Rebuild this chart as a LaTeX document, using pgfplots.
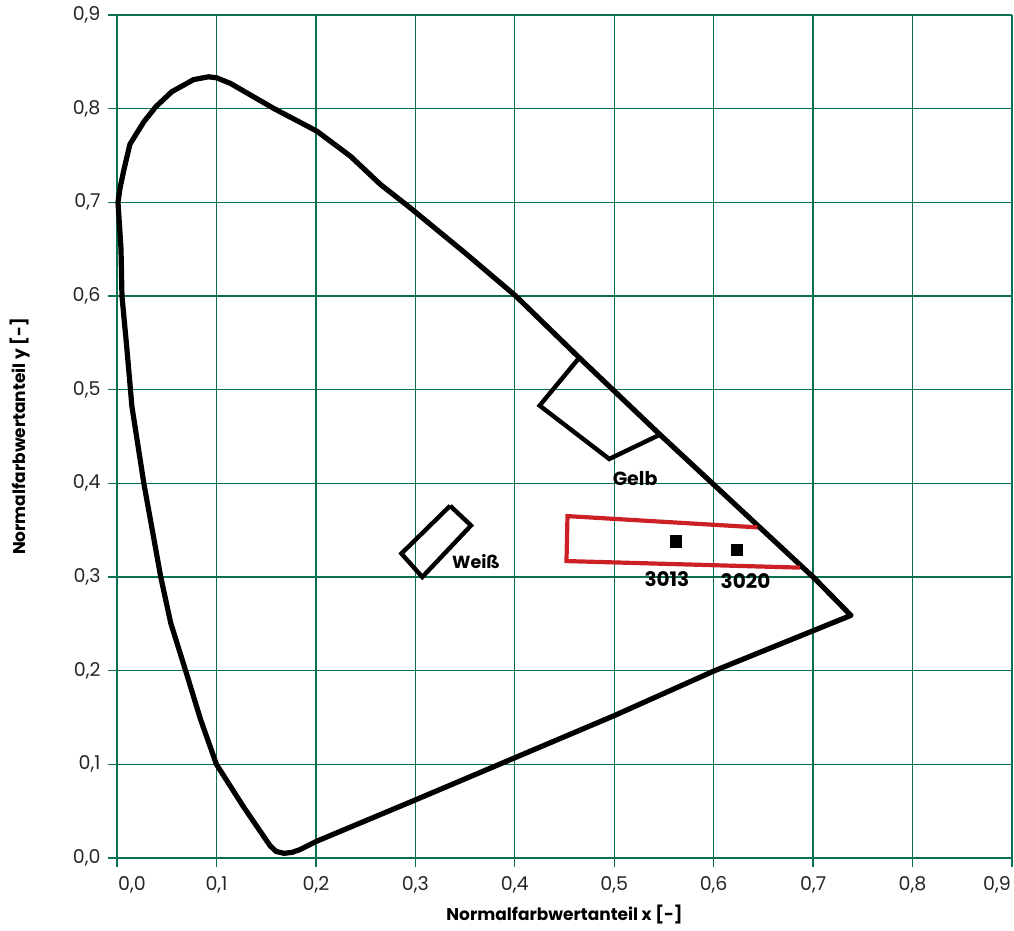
\documentclass[border=0pt]{standalone}
\usepackage{pgfplots}
\pgfplotsset{compat=1.18}
\usepackage{fontspec}
\setmainfont{Poppins}
\definecolor{gridgreen}{RGB}{10,112,84}
\definecolor{ralred}{RGB}{204,32,38}
\begin{document}
\begin{tikzpicture}
\begin{axis}[
  scale only axis,
  width=895pt, height=843pt,
  xmin=0, xmax=0.9, ymin=0, ymax=0.9,
  xtick={0,0.1,...,0.9}, ytick={0,0.1,...,0.9},
  xticklabels={{\hspace*{30pt}0,0},{0,1},{0,2},{0,3},{0,4},{0,5},{0,6},{0,7},{0,8},{0,9\hspace*{30pt}}},
  xtick pos=bottom, ytick pos=left,
  tick align=outside, major tick length=9pt,
  every tick/.style={gridgreen, line width=1.3pt},
  grid=major,
  major grid style={gridgreen, line width=1.3pt},
  axis line style={draw=none},
  /pgf/number format/.cd, use comma, fixed, fixed zerofill, precision=1, assume math mode=true,
  /pgfplots/.cd,
  ticklabel style={font=\fontsize{19}{22}\selectfont, text=black!85},
  xticklabel style={yshift=-6pt},
  yticklabel style={xshift=-4pt},
  xlabel={Normalfarbwertanteil x [-]},
  ylabel={Normalfarbwertanteil y [-]},
  label style={font=\fontsize{17}{20}\selectfont\bfseries},
  xlabel style={at={(axis description cs:0.5,0)}, anchor=center, yshift=-57pt},
  ylabel style={at={(axis description cs:0,0.5)}, anchor=center, yshift=97pt},
  clip=false,
]
% spectral locus
\addplot[black, line width=5.2pt, line join=round, line cap=round] coordinates {
(0.738,0.259) (0.701,0.299) (0.546,0.452) (0.463,0.536) (0.401,0.600)
(0.350,0.646) (0.295,0.694) (0.265,0.719) (0.235,0.749) (0.201,0.776)
(0.158,0.800) (0.114,0.827) (0.100,0.833) (0.092,0.834) (0.077,0.831)
(0.055,0.818) (0.039,0.802) (0.027,0.786) (0.013,0.762) (0.007,0.735)
(0.003,0.715) (0.001,0.700) (0.004,0.651) (0.005,0.600) (0.010,0.543)
(0.015,0.482) (0.027,0.400) (0.044,0.300) (0.054,0.251) (0.069,0.200)
(0.084,0.148) (0.100,0.100) (0.127,0.055) (0.154,0.013) (0.160,0.007)
(0.168,0.005) (0.176,0.006) (0.184,0.009) (0.201,0.018) (0.300,0.062)
(0.400,0.107) (0.500,0.152) (0.601,0.200) (0.738,0.259)
};
% Gelb
\addplot[black, line width=4.4pt, line join=miter] coordinates {
(0.464,0.533) (0.425,0.483) (0.495,0.426) (0.546,0.452)
};
% Weiss
\addplot[black, line width=4.4pt, line join=miter] coordinates {
(0.335,0.376) (0.356,0.355) (0.307,0.300) (0.286,0.325) (0.335,0.376)
};
% red region
\addplot[ralred, line width=4.2pt, line join=miter] coordinates {
(0.644,0.353) (0.596,0.356) (0.453,0.365) (0.452,0.317) (0.687,0.310)
};
% points
\addplot[only marks, mark=square*, mark size=5.8pt, black] coordinates {
(0.562,0.338) (0.623,0.329)
};
\node[font=\fontsize{19}{22}\selectfont\bfseries] at (axis cs:0.521,0.405) {Gelb};
\node[font=\fontsize{17.5}{20}\selectfont\bfseries] at (axis cs:0.361,0.316) {Weiß};
\node[font=\fontsize{20}{23}\selectfont\bfseries] at (axis cs:0.553,0.298) {3013};
\node[font=\fontsize{20}{23}\selectfont\bfseries] at (axis cs:0.632,0.296) {3020};
\end{axis}
\pgfresetboundingbox
\path ([xshift=-117pt,yshift=-72pt]current axis.south west) rectangle ([xshift=2pt,yshift=15pt]current axis.north east);
\end{tikzpicture}
\end{document}
